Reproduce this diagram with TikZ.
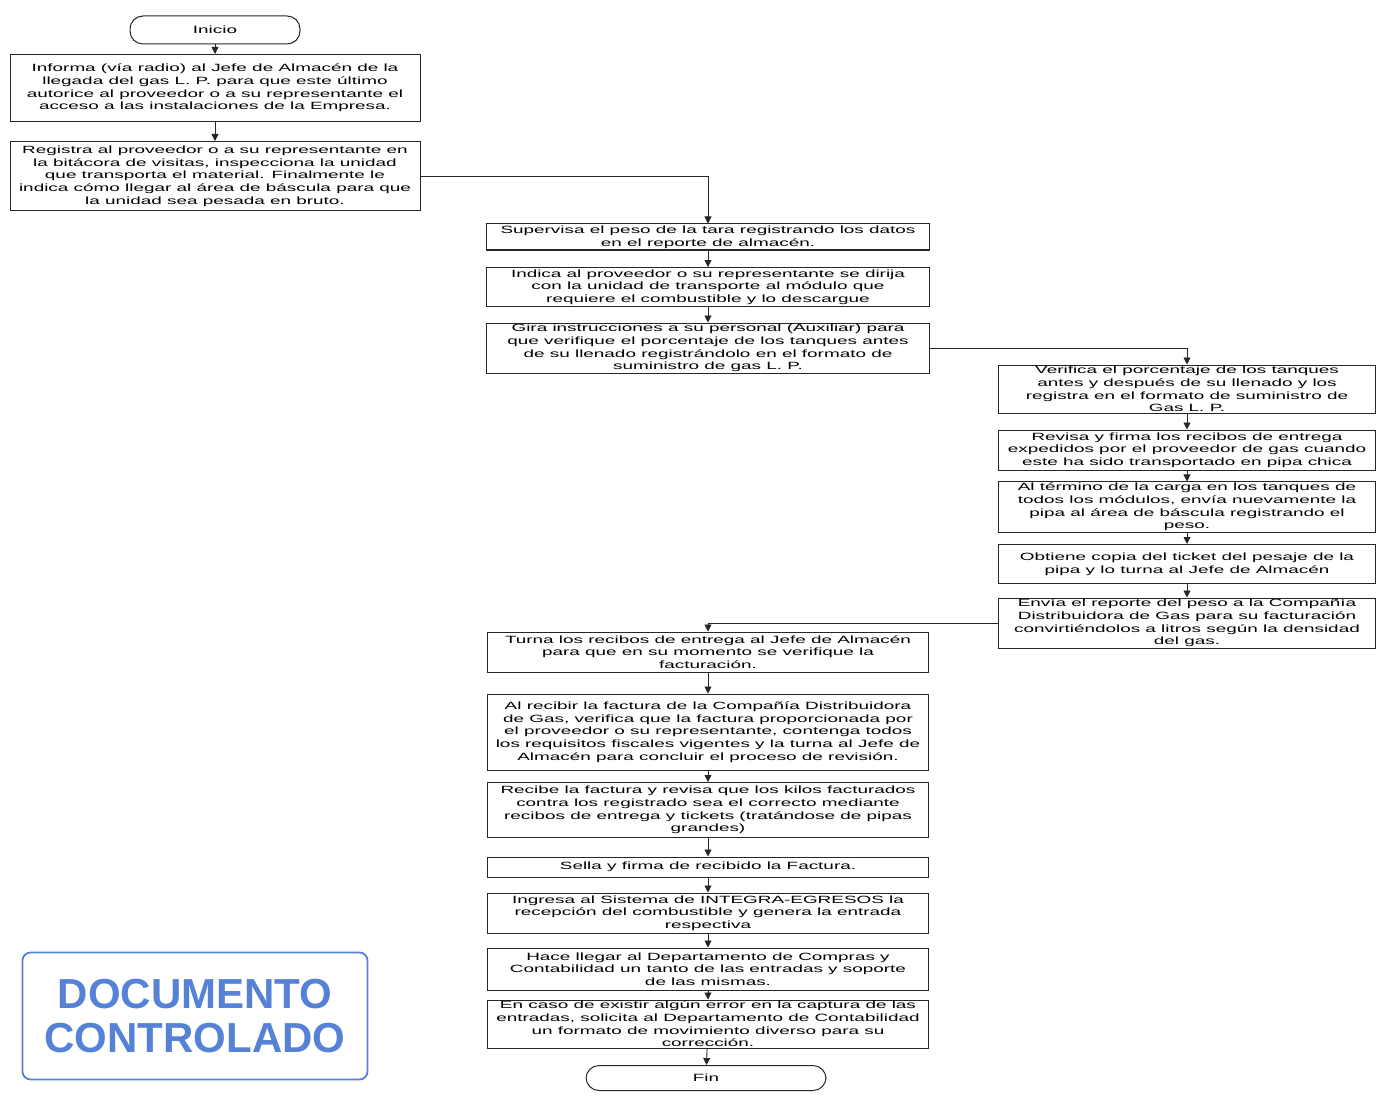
\documentclass[tikz,border=0pt]{standalone}
\usepackage{fontspec}
\setmainfont{Liberation Sans}[FakeStretch=1.8]
\newfontfamily\sellofont{Liberation Sans}
\usepackage{tikz}
\usepackage{xcolor}
\usetikzlibrary{arrows.meta}
\definecolor{sello}{RGB}{85,130,215}

\begin{document}
\begin{tikzpicture}[x=1pt, y=-1pt,
    paso/.style={draw=black!85, line width=1pt, rectangle, align=center, inner xsep=2pt, inner ysep=1pt, font=\fontsize{10.5}{12.7}\selectfont},
    terminal/.style={draw=black!85, line width=1pt, rounded corners=13pt, align=center, font=\fontsize{10.5}{12.7}\selectfont},
    flecha/.style={-{Triangle[length=7pt, width=7pt]}, line width=0.9pt, black!85}
]
\useasboundingbox (0,0) rectangle (1380,1099);

% Inicio
\node[terminal, minimum width=170pt, minimum height=28pt] (ini) at (215,30) {Inicio};

% Primera columna
\node[paso, minimum width=410pt, minimum height=67pt] (b1) at (215,88) {Informa (vía radio) al Jefe de Almacén de la\\ llegada del gas L. P. para que este último\\ autorice al proveedor o a su representante el\\ acceso a las instalaciones de la Empresa.};
\node[paso, minimum width=410pt, minimum height=69pt] (b2) at (215,176) {Registra al proveedor o a su representante en\\ la bitácora de visitas, inspecciona la unidad\\ que transporta el material. Finalmente le\\ indica cómo llegar al área de báscula para que\\ la unidad sea pesada en bruto.};

% Segunda columna
\node[paso, minimum width=443pt, minimum height=26pt] (b3) at (708,237) {Supervisa el peso de la tara registrando los datos\\ en el reporte de almacén.};
\node[paso, minimum width=443pt, minimum height=39pt] (b4) at (708,287) {Indica al proveedor o su representante se dirija\\ con la unidad de transporte al módulo que\\ requiere el combustible y lo descargue};
\node[paso, minimum width=443pt, minimum height=50pt] (b5) at (708,348) {Gira instrucciones a su personal (Auxiliar) para\\ que verifique el porcentaje de los tanques antes\\ de su llenado registrándolo en el formato de\\ suministro de gas L. P.};

% Tercera columna
\node[paso, minimum width=377pt, minimum height=48pt] (b6) at (1187,389) {Verifica el porcentaje de los tanques\\ antes y después de su llenado y los\\ registra en el formato de suministro de\\ Gas L. P.};
\node[paso, minimum width=377pt, minimum height=40pt] (b7) at (1187,450) {Revisa y firma los recibos de entrega\\ expedidos por el proveedor de gas cuando\\ este ha sido transportado en pipa chica};
\node[paso, minimum width=377pt, minimum height=48pt] (b8) at (1187,507) {Al término de la carga en los tanques de\\ todos los módulos, envía nuevamente la\\ pipa al área de báscula registrando el\\ peso.};
\node[paso, minimum width=377pt, minimum height=39pt] (b9) at (1187,564) {Obtiene copia del ticket del pesaje de la\\ pipa y lo turna al Jefe de Almacén};
\node[paso, minimum width=377pt, minimum height=50pt] (b10) at (1187,623) {Envía el reporte del peso a la Compañía\\ Distribuidora de Gas para su facturación\\ convirtiéndolos a litros según la densidad\\ del gas.};

% Segunda columna, parte baja
\node[paso, minimum width=441pt, minimum height=40pt] (b11) at (708,652) {Turna los recibos de entrega al Jefe de Almacén\\ para que en su momento se verifique la\\ facturación.};
\node[paso, minimum width=441pt, minimum height=76pt] (b12) at (708,732) {Al recibir la factura de la Compañía Distribuidora\\ de Gas, verifica que la factura proporcionada por\\ el proveedor o su representante, contenga todos\\ los requisitos fiscales vigentes y la turna al Jefe de\\ Almacén para concluir el proceso de revisión.};
\node[paso, minimum width=441pt, minimum height=55pt] (b13) at (708,810) {Recibe la factura y revisa que los kilos facturados\\ contra los registrado sea el correcto mediante\\ recibos de entrega y tickets (tratándose de pipas\\ grandes)};
\node[paso, minimum width=441pt, minimum height=20pt] (b14) at (708,867) {Sella y firma de recibido la Factura.};
\node[paso, minimum width=441pt, minimum height=40pt] (b15) at (708,913) {Ingresa al Sistema de INTEGRA-EGRESOS la\\ recepción del combustible y genera la entrada\\ respectiva};
\node[paso, minimum width=441pt, minimum height=42pt] (b16) at (708,969) {Hace llegar al Departamento de Compras y\\ Contabilidad un tanto de las entradas y soporte\\ de las mismas.};
\node[paso, minimum width=441pt, minimum height=48pt] (b17) at (708,1024) {En caso de existir algún error en la captura de las\\ entradas, solicita al Departamento de Contabilidad\\ un formato de movimiento diverso para su\\ corrección.};

% Fin
\node[terminal, minimum width=240pt, minimum height=25pt] (fin) at (706,1078) {Fin};

% Flechas
\draw[flecha] (ini) -- (b1);
\draw[flecha] (b1) -- (b2);
\draw[flecha] (b2.east) -| (b3.north);
\draw[flecha] (b3) -- (b4);
\draw[flecha] (b4) -- (b5);
\draw[flecha] (b5.east) -| (b6.north);
\draw[flecha] (b6) -- (b7);
\draw[flecha] (b7) -- (b8);
\draw[flecha] (b8) -- (b9);
\draw[flecha] (b9) -- (b10);
\draw[flecha] (b10.west) -| (b11.north);
\draw[flecha] (b11) -- (b12);
\draw[flecha] (b12) -- (b13);
\draw[flecha] (b13) -- (b14);
\draw[flecha] (b14) -- (b15);
\draw[flecha] (b15) -- (b16);
\draw[flecha] (b16) -- (b17);
\draw[flecha] (b17) -- (fin);

% Sello
\node[draw=sello, line width=1.8pt, rounded corners=8pt, minimum width=345pt, minimum height=127pt, text=sello, align=center, font=\sellofont\bfseries\fontsize{42}{44}\selectfont] (sello) at (195,1016) {DOCUMENTO\\ CONTROLADO};

\end{tikzpicture}
\end{document}
